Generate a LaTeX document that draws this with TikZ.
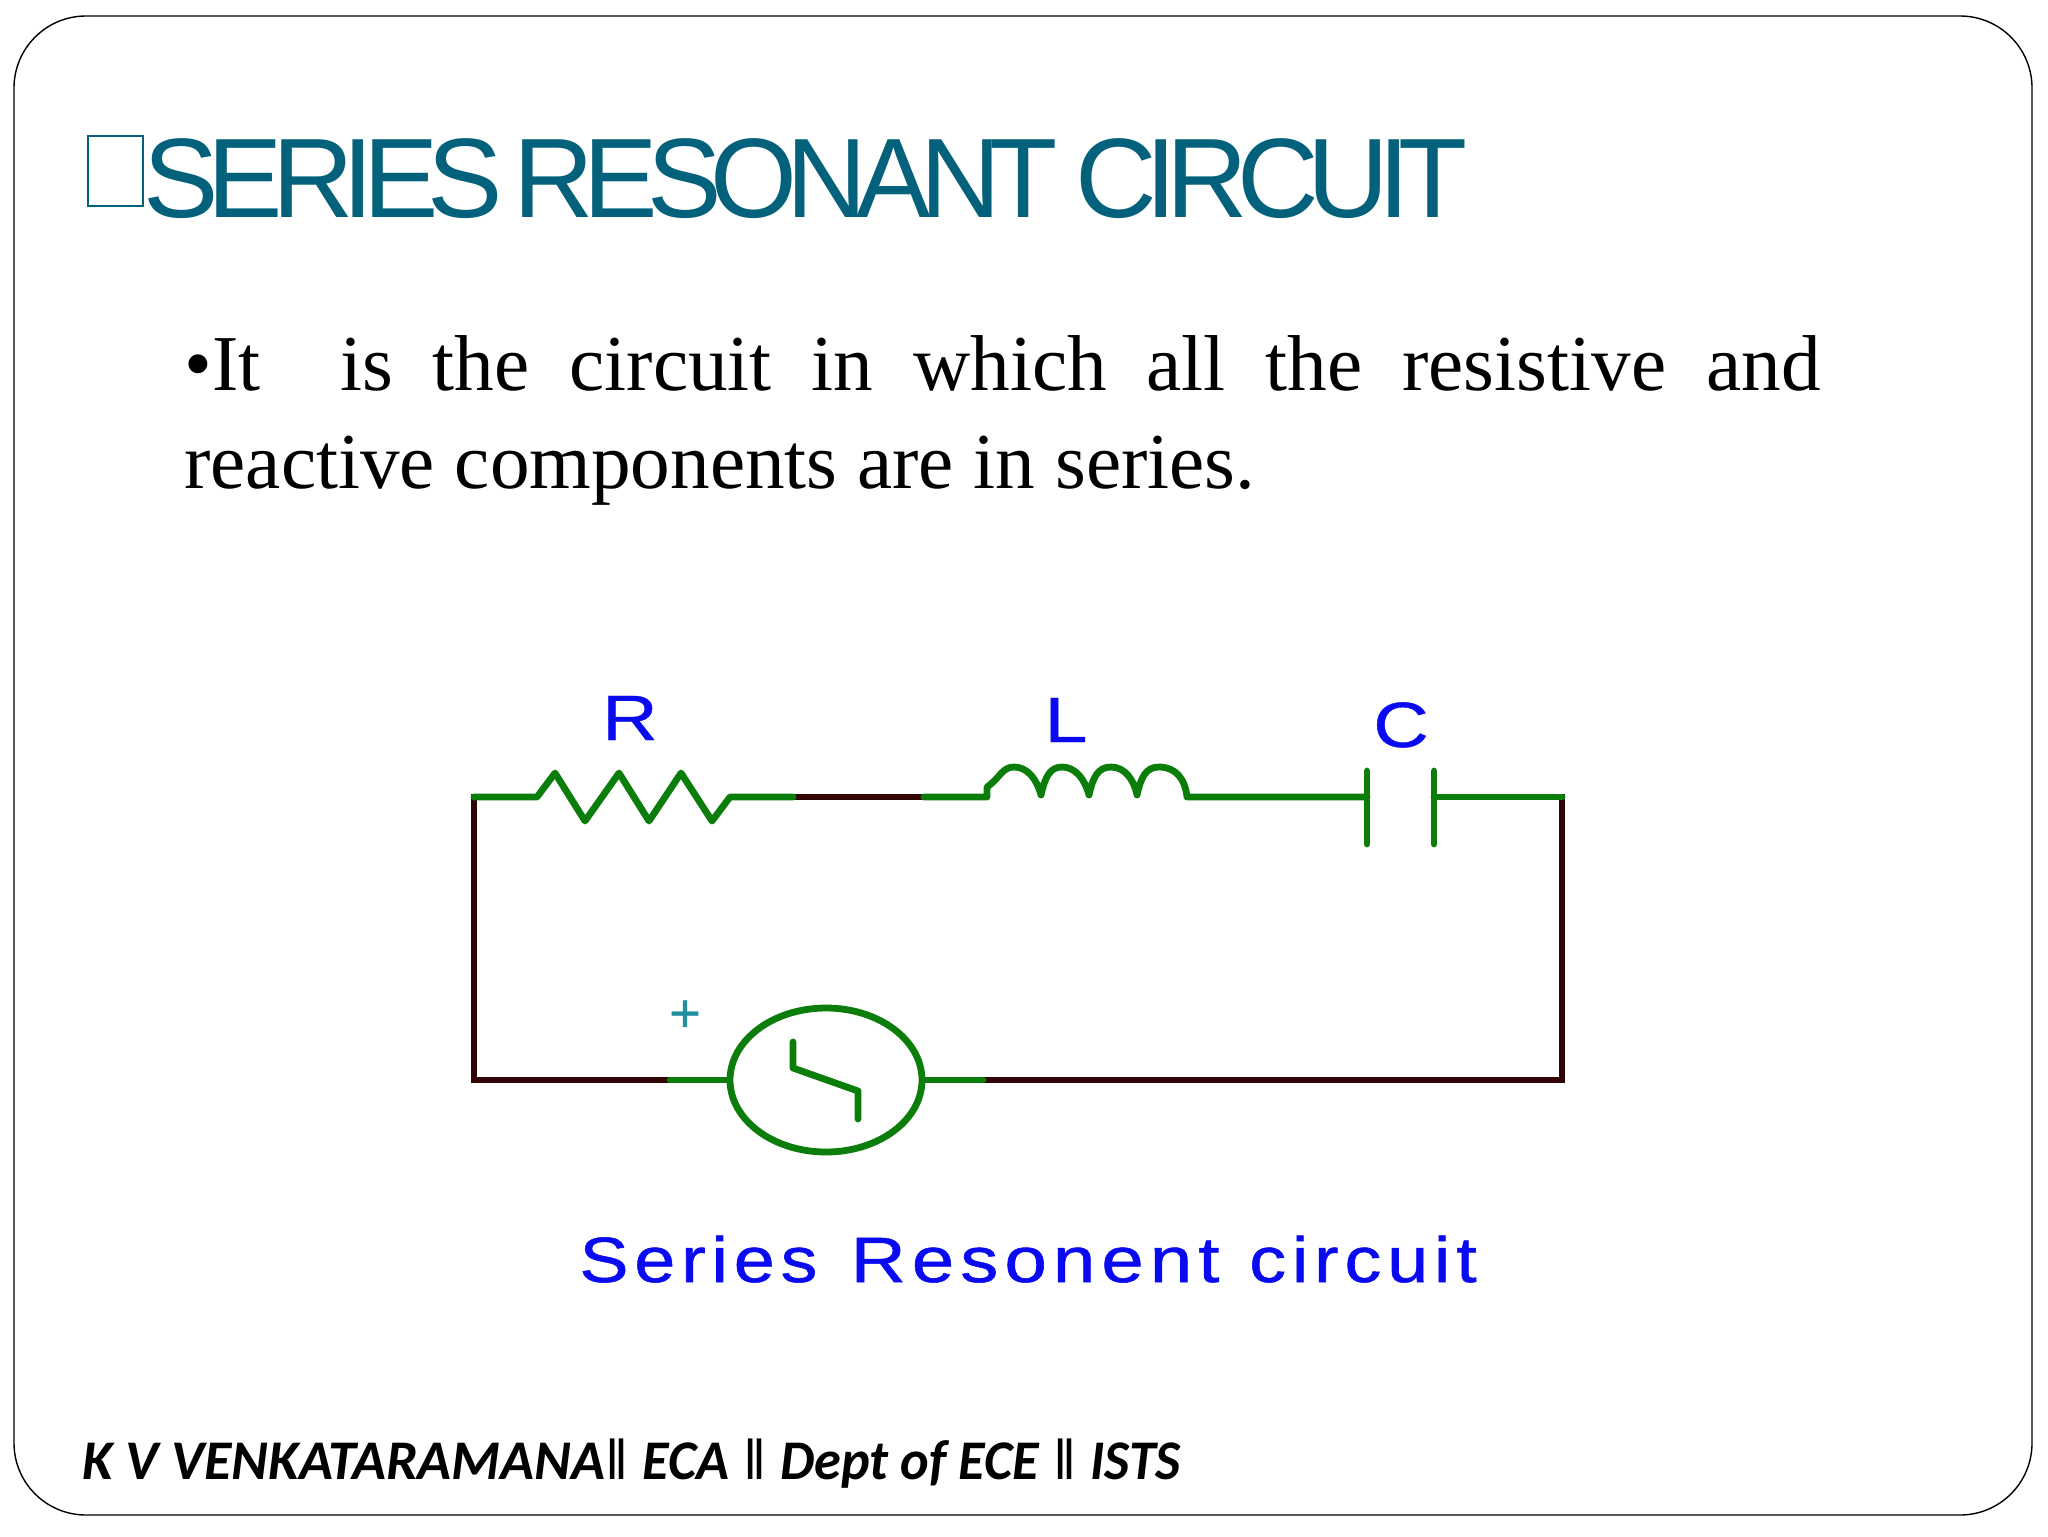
\documentclass[tikz,border=0pt]{standalone}
\usepackage{fontspec}
\usetikzlibrary{shapes.geometric}
\setmainfont{Liberation Serif}
\newfontfamily\titlefont[LetterSpace=-9.7]{Liberation Sans}
\newfontfamily\labelfont[FakeBold=0.6]{Liberation Sans}
\newfontfamily\capfont[LetterSpace=8,FakeBold=0.8]{Liberation Sans}
\newfontfamily\footfont{Carlito}
\newfontfamily\barfont{Liberation Sans}
\definecolor{titleteal}{HTML}{04617B}
\definecolor{wiregreen}{HTML}{0A7D0A}
\definecolor{wirebrown}{HTML}{320505}
\definecolor{labelblue}{HTML}{0A0AF0}
\definecolor{plusteal}{HTML}{2090A0}
\tikzset{
  gw/.style={draw=wiregreen,line width=3.4pt,line cap=round,line join=round},
  bw/.style={draw=wirebrown,line width=3.4pt,line cap=rect,line join=miter},
  complabel/.style={text=labelblue,font=\labelfont\fontsize{32}{32}\selectfont,anchor=base,inner sep=0pt,xscale=1.2},
  frame/.style={draw=black,line width=0.7pt,rounded corners=36pt}
}
\begin{document}
\begin{tikzpicture}[x=0.5pt,y=-0.5pt]
\useasboundingbox (0,0) rectangle (2048,1536);
\fill[white] (0,0) rectangle (2048,1536);
\draw[frame] (14,16) rectangle (2032,1515);
% title
\node[draw=titleteal,line width=1pt,minimum width=27.5pt,minimum height=35pt,inner sep=0pt,anchor=north west] (tbox) at (87,135) {};
\node[anchor=base west,inner sep=0pt,text=titleteal,font=\titlefont\fontsize{56.5}{56.5}\selectfont] (title) at (143,217) {SERIES\hspace{-5pt} \scalebox{0.988}[1]{RESONANT}\hspace{-1.6pt} CIRCUIT};
% body
\node[anchor=north west,inner sep=0pt] (body) at (184,321) {\parbox[t]{818pt}{\fontsize{39.6}{49}\selectfont\setlength{\parindent}{0pt}\strut •It \ is the circuit in which all the resistive and\linebreak reactive components are in series.}};
% circuit coordinates
\coordinate (tl) at (474,797);
\coordinate (tr) at (1562,797);
\coordinate (bl) at (474,1080);
\coordinate (br) at (1562,1080);
\coordinate (r1) at (537,797);
\coordinate (r2) at (730,797);
\coordinate (m1) at (793,797);
\coordinate (m2) at (924,797);
\coordinate (l1) at (987,797);
\coordinate (l2) at (1187,797);
\coordinate (c1) at (1367,797);
\coordinate (c2) at (1434,797);
\coordinate (s1) at (670,1080);
\coordinate (s2) at (983,1080);
\node[draw=wiregreen,line width=3.4pt,ellipse,minimum width=96pt,minimum height=72pt,inner sep=0pt] (src) at (826,1080) {};
% brown wires
\draw[bw] (m1) -- (m2);
\draw[bw] (s1) -- (bl) -- (tl);
\draw[bw] (s2) -- (br) -- (tr);
% green wires
\draw[gw] (tl) -- (r1) -- (555,773) -- (585,821) -- (619,773) -- (649,821) -- (681,773) -- (712,821) -- (r2) -- (m1);
\draw[gw] (m2) -- (l1) -- (987,787)
  .. controls (1000,778) and (1002,767) .. (1014,767)
  .. controls (1028,767) and (1037,780) .. (1041,795)
  .. controls (1045,777) and (1050,767) .. (1062,767)
  .. controls (1076,767) and (1085,780) .. (1089,795)
  .. controls (1093,777) and (1098,767) .. (1111,767)
  .. controls (1125,767) and (1134,780) .. (1137,795)
  .. controls (1141,777) and (1146,767) .. (1159,767)
  .. controls (1175,767) and (1185,778) .. (l2) -- (c1);
\draw[gw] (1367,771) -- (1367,844);
\draw[gw] (1434,771) -- (1434,844);
\draw[gw] (c2) -- (tr);
\draw[gw] (s1) -- (src.west);
\draw[gw] (src.east) -- (s2);
\draw[gw] (793,1042) -- (793,1068) -- (858,1091) -- (858,1119);
% labels
\node[complabel] (lr) at (630,740) {R};
\node[complabel] (ll) at (1066,742) {L};
\node[complabel] (lc) at (1401,747) {C};
\node[text=plusteal,font=\labelfont\fontsize{27}{27}\selectfont,anchor=center,inner sep=0pt] (plus) at (685,1016) {+};
\node[text=labelblue,font=\capfont\fontsize{32}{32}\selectfont,anchor=base west,inner sep=0pt,xscale=1.15] (cap) at (579,1282) {Series\hspace{3pt} \scalebox{1.035}[1]{Resonent}\hspace{1.5pt} circuit};
% footer
\node[anchor=base west,inner sep=0pt,font=\fontsize{28}{28}\selectfont] (foot) at (82,1479) {{\footfont\bfseries\itshape K V VENKATARAMANA}{\barfont ‖} \scalebox{0.97}[1]{\footfont\bfseries\itshape ECA} {\barfont ‖} \scalebox{0.97}[1]{\footfont\bfseries\itshape Dept of ECE} {\barfont ‖} \scalebox{0.96}[1]{\footfont\bfseries\itshape ISTS}};
\end{tikzpicture}
\end{document}
